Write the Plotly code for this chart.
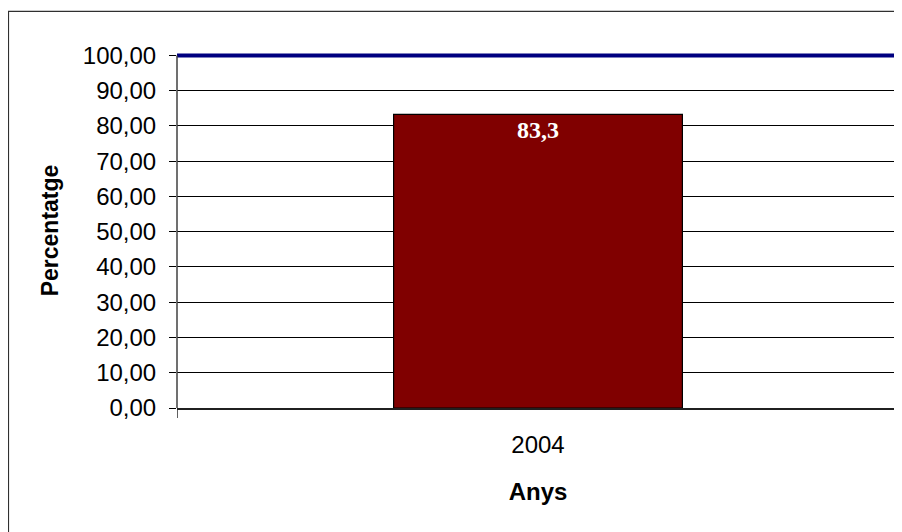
import plotly.graph_objects as go

# datos del grafico
anys = ["2004"]
percentatge = [83.3]
objectiu = 100
y_ticks = [0, 10, 20, 30, 40, 50, 60, 70, 80, 90, 100]

fig = go.Figure()

# barra con su etiqueta dentro (coma decimal via separators)
fig.add_trace(go.Bar(
    x=anys,
    y=percentatge,
    width=0.4,
    marker=dict(color="#800000", line=dict(color="#000000", width=1.2)),
    texttemplate="<b>%{y:.1f}</b>",
    textposition="inside",
    insidetextanchor="end",
    textangle=0,
    constraintext="none",
    textfont=dict(family="Liberation Serif, Times New Roman, serif",
                  size=24, color="white"),
    showlegend=False,
    hoverinfo="skip",
))

# linea objetivo al 100
fig.add_shape(type="line", xref="paper", yref="y", x0=0, x1=1,
              y0=objectiu, y1=objectiu, line=dict(color="#000080", width=4),
              layer="above")

# ejes del area de trazado (izquierdo oscuro, derecho gris)
fig.add_shape(type="line", xref="paper", yref="y", x0=0, x1=0, y0=0, y1=objectiu,
              line=dict(color="#404040", width=1.5))
fig.add_shape(type="line", xref="paper", yref="y", x0=1, x1=1, y0=0, y1=objectiu,
              line=dict(color="#808080", width=1.5))

# marco exterior del grafico
fig.add_shape(type="rect", xref="paper", yref="paper",
              x0=-0.2334, x1=1.2, y0=-0.6, y1=1.1173,
              line=dict(color="#303030", width=1.2), fillcolor="rgba(0,0,0,0)")

fig.update_layout(
    width=894, height=524,
    margin=dict(l=169, r=3, t=45, b=124),
    paper_bgcolor="white", plot_bgcolor="white",
    separators=",.",
    font=dict(family="Liberation Sans, Arial, sans-serif", size=24, color="black"),
)

fig.update_yaxes(
    range=[0, 100.7], tickvals=y_ticks, tickformat=".2f",
    showgrid=True, gridcolor="black", gridwidth=1,
    showline=False,
    ticks="outside", ticklen=7, tickcolor="black",
    ticklabelstandoff=8,
    zeroline=False,
    title=dict(text="<b>Percentatge</b>", standoff=17, font=dict(size=23)),
    tickfont=dict(size=24),
)

fig.update_xaxes(
    type="category",
    showline=True, linecolor="#202020", linewidth=1.5,
    ticks="outside", tickson="boundaries", ticklen=8, tickcolor="#606060",
    ticklabelstandoff=14,
    title=dict(text="<b>Anys</b>", standoff=27, font=dict(size=24)),
    tickfont=dict(size=24),
)

fig.write_html("out.html")
